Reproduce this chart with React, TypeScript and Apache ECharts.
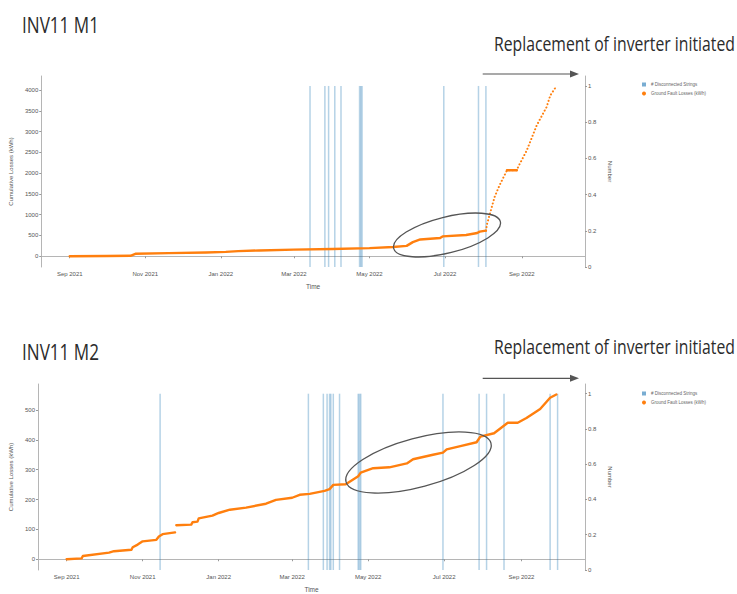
import React, { useEffect, useRef } from 'react';
import * as echarts from 'echarts';

// ---------- data ----------
const xTickDates = ['2021-09-01', '2021-11-01', '2022-01-01', '2022-03-01', '2022-05-01', '2022-07-01', '2022-09-01'];
const xMinDate = '2021-08-09';
const xMaxDate = '2022-10-22';

const m1LossTicks = [0, 500, 1000, 1500, 2000, 2500, 3000, 3500, 4000];
const m2LossTicks = [0, 100, 200, 300, 400, 500];
const numberTicks = [0, 0.2, 0.4, 0.6, 0.8, 1];

const m1Disconnected = ['2022-03-14', '2022-03-26', '2022-03-29', '2022-04-03', '2022-04-08', '2022-04-23', '2022-04-24', '2022-04-25', '2022-06-30', '2022-07-28', '2022-08-03'];
const m2Disconnected = ['2021-11-15', '2022-03-14', '2022-03-26', '2022-03-29', '2022-03-31', '2022-04-01', '2022-04-03', '2022-04-08', '2022-04-23', '2022-04-24', '2022-04-25', '2022-06-30', '2022-07-29', '2022-08-04', '2022-08-18', '2022-09-24', '2022-09-30'];

// M1 cumulative losses (kWh): dense section
const m1LossDense: [string, number][] = [
  ['2021-09-01', 0], ['2021-10-01', 5], ['2021-10-20', 12], ['2021-10-24', 60], ['2021-11-20', 75],
  ['2021-12-20', 92], ['2022-01-05', 105], ['2022-01-15', 125], ['2022-02-01', 140], ['2022-03-01', 160],
  ['2022-04-01', 175], ['2022-05-01', 195], ['2022-05-20', 222], ['2022-05-31', 250], ['2022-06-05', 340],
  ['2022-06-11', 405], ['2022-06-27', 440], ['2022-06-29', 478], ['2022-07-18', 513], ['2022-07-27', 560],
  ['2022-07-29', 592], ['2022-08-03', 617],
];
// M1 after replacement: sparse (dotted) section
const m1LossSparse: [string, number][] = [
  ['2022-08-03', 617], ['2022-08-04', 786], ['2022-08-07', 1106], ['2022-08-10', 1426], ['2022-08-14', 1708],
  ['2022-08-20', 2068], ['2022-08-28', 2070], ['2022-08-29', 2148], ['2022-09-05', 2549], ['2022-09-13', 3150],
  ['2022-09-21', 3591], ['2022-09-24', 3872], ['2022-09-29', 4096],
];
const m1LossFlat: [string, number][] = [['2022-08-20', 2068], ['2022-08-28', 2070]];

// M2 cumulative losses (kWh)
const m2LossA: [string, number][] = [
  ['2021-09-01', 0], ['2021-09-13', 3], ['2021-09-14', 11], ['2021-10-05', 22], ['2021-10-09', 27],
  ['2021-10-23', 32], ['2021-10-24', 40], ['2021-10-28', 49], ['2021-11-01', 60], ['2021-11-12', 65],
  ['2021-11-14', 76], ['2021-11-17', 84], ['2021-11-27', 90],
];
const m2LossB: [string, number][] = [
  ['2021-11-28', 114], ['2021-12-10', 116], ['2021-12-11', 124], ['2021-12-15', 126], ['2021-12-16', 137],
  ['2021-12-27', 146], ['2022-01-01', 155], ['2022-01-10', 166], ['2022-01-23', 173], ['2022-02-08', 186],
  ['2022-02-16', 199], ['2022-03-01', 206], ['2022-03-07', 216], ['2022-03-15', 219], ['2022-03-27', 229],
  ['2022-03-31', 235], ['2022-04-03', 249], ['2022-04-13', 251], ['2022-04-23', 278], ['2022-04-25', 290],
  ['2022-05-05', 305], ['2022-05-18', 308], ['2022-06-01', 321], ['2022-06-06', 335], ['2022-06-22', 350],
  ['2022-06-30', 357], ['2022-07-03', 368], ['2022-07-14', 379], ['2022-07-27', 392], ['2022-07-30', 411],
  ['2022-08-10', 422], ['2022-08-15', 438], ['2022-08-21', 457], ['2022-08-29', 457], ['2022-09-05', 473],
  ['2022-09-13', 495], ['2022-09-16', 503], ['2022-09-24', 541], ['2022-09-29', 552],
];

const SERIES_BAR = '# Disconnected Strings';
const SERIES_LOSS = 'Ground Fault Losses (kWh)';
const TITLE_1 = 'INV11 M1';
const TITLE_2 = 'INV11 M2';
const NOTE = 'Replacement of inverter initiated';

// ---------- helpers ----------
const ts = (s: string) => {
  const [y, m, d] = s.split('-').map(Number);
  return new Date(y, m - 1, d).getTime();
};
const MONTHS = ['Jan', 'Feb', 'Mar', 'Apr', 'May', 'Jun', 'Jul', 'Aug', 'Sep', 'Oct', 'Nov', 'Dec'];
const fmtMonth = (v: number) => {
  const d = new Date(v);
  return MONTHS[d.getMonth()] + ' ' + d.getFullYear();
};
const pairs = (arr: [string, number][]) => arr.map(([d, v]) => [ts(d), v]);
const measure = (text: string, font: string) => {
  const ctx = document.createElement('canvas').getContext('2d');
  if (!ctx) return 1;
  ctx.font = font;
  return ctx.measureText(text).width || 1;
};

const ORANGE = '#ff7f0e';
const BLUE = 'rgba(31,119,180,0.33)';
const AXIS = '#b5b5b5';
const LABEL = '#555';
const FONT = '"Liberation Sans", Arial, sans-serif';
const TITLE_FONT_FAMILY = '"Open Sans", "DejaVu Sans", sans-serif';

export default function App() {
  const ref = useRef<HTMLDivElement>(null);
  useEffect(() => {
    document.body.style.margin = '0';
    if (!ref.current) return;
    const chart = echarts.init(ref.current, undefined, { renderer: 'svg' });
    const xTicks = xTickDates.map(ts);

    const xAxis = (gridIndex: number) => ({
      type: 'value',
      gridIndex,
      min: ts(xMinDate),
      max: ts(xMaxDate),
      axisLine: { show: true, lineStyle: { color: AXIS, width: 1 } },
      axisTick: { show: true, length: 2, customValues: xTicks, lineStyle: { color: '#999' } },
      axisLabel: { customValues: xTicks, formatter: (v: number) => fmtMonth(v), fontSize: 6, color: LABEL, fontFamily: FONT, margin: 4 },
      splitLine: { show: false },
      name: 'Time',
      nameLocation: 'middle',
      nameGap: 16,
      nameTextStyle: { fontSize: 6.5, color: LABEL, fontFamily: FONT },
    });
    const leftAxis = (gridIndex: number, min: number, max: number, ticks: number[]) => ({
      type: 'value',
      gridIndex,
      position: 'left',
      min,
      max,
      axisLine: { show: true, lineStyle: { color: AXIS, width: 1 } },
      axisTick: { show: true, length: 2, customValues: ticks, lineStyle: { color: '#999' } },
      axisLabel: { customValues: ticks, formatter: (v: number) => String(v), fontSize: 6, color: LABEL, fontFamily: FONT, margin: 3 },
      splitLine: { show: false },
      name: 'Cumulative Losses (kWh)',
      nameLocation: 'middle',
      nameGap: 22,
      nameTextStyle: { fontSize: 6, color: LABEL, fontFamily: FONT },
    });
    const rightAxis = (gridIndex: number) => ({
      type: 'value',
      gridIndex,
      position: 'right',
      min: 0,
      max: 1.055,
      axisLine: { show: true, lineStyle: { color: AXIS, width: 1 } },
      axisTick: { show: true, length: 2, customValues: numberTicks, lineStyle: { color: '#999' } },
      axisLabel: { customValues: numberTicks, formatter: (v: number) => String(v), fontSize: 6, color: LABEL, fontFamily: FONT, margin: 3 },
      splitLine: { show: false },
      name: 'Number',
      nameLocation: 'middle',
      nameGap: 18,
      nameRotate: -90,
      nameTextStyle: { fontSize: 6, color: LABEL, fontFamily: FONT },
    });

    const barSeries = (dates: string[], xi: number, yi: number) => ({
      name: SERIES_BAR,
      type: 'bar',
      xAxisIndex: xi,
      yAxisIndex: yi,
      barWidth: 1.5,
      itemStyle: { color: BLUE },
      data: dates.map((d) => [ts(d), 1]),
      z: 1,
    });
    const lossSeries = (data: [string, number][], xi: number, yi: number, dotted = false) => ({
      name: SERIES_LOSS,
      type: 'line',
      xAxisIndex: xi,
      yAxisIndex: yi,
      symbol: 'none',
      color: ORANGE,
      lineStyle: dotted
        ? { color: ORANGE, width: 2, type: [0.1, 3.4], cap: 'round' }
        : { color: ORANGE, width: 2.4, cap: 'round', join: 'round' },
      data: pairs(data),
      z: 3,
    });

    const legend = (top: number) => ({
      orient: 'vertical',
      left: 637,
      top,
      itemWidth: 4,
      itemHeight: 4,
      itemGap: 4,
      textStyle: { fontSize: 4.5, color: '#666', fontFamily: FONT },
      data: [
        { name: SERIES_BAR, icon: 'rect', itemStyle: { color: 'rgba(31,119,180,0.6)' } },
        { name: SERIES_LOSS, icon: 'circle', itemStyle: { color: ORANGE } },
      ],
    });

    const titleFont = `22px ${TITLE_FONT_FAMILY}`;
    const noteFont = `20px ${TITLE_FONT_FAMILY}`;
    const titleScale = 77 / measure(TITLE_1, titleFont);
    const noteScale = 241 / measure(NOTE, noteFont);

    const titleText = (text: string, x: number, y: number) => ({
      type: 'text', x, y, scaleX: titleScale,
      style: { text, font: titleFont, fill: '#2b2b2b', textVerticalAlign: 'middle' },
    });
    const noteText = (x: number, y: number) => ({
      type: 'text', x, y, scaleX: noteScale,
      style: { text: NOTE, font: noteFont, fill: '#2b2b2b', textVerticalAlign: 'middle' },
    });
    const arrow = (y: number) => ([
      { type: 'line', shape: { x1: 482.7, y1: y, x2: 572, y2: y }, style: { stroke: '#555', lineWidth: 1.2 } },
      { type: 'polygon', shape: { points: [[570, y - 3.5], [579, y], [570, y + 3.5]] }, style: { fill: '#555' } },
    ]);
    const ellipse = (x: number, y: number, rx: number, ry: number, deg: number) => ({
      type: 'ellipse', x, y, rotation: (deg * Math.PI) / 180,
      shape: { cx: 0, cy: 0, rx, ry },
      style: { fill: 'none', stroke: '#555', lineWidth: 1.3 },
      z: 100,
    });

    chart.setOption({
      animation: false,
      backgroundColor: '#fff',
      grid: [
        { left: 40, right: 152, top: 76, height: 191 },
        { left: 38, right: 152, top: 384, height: 192 },
      ],
      xAxis: [xAxis(0), xAxis(1)],
      yAxis: [
        leftAxis(0, -258, 4337, m1LossTicks),
        rightAxis(0),
        leftAxis(1, -36, 587, m2LossTicks),
        rightAxis(1),
      ],
      legend: [legend(77), legend(386)],
      series: [
        barSeries(m1Disconnected, 0, 1),
        lossSeries(m1LossDense, 0, 0),
        lossSeries(m1LossSparse, 0, 0, true),
        lossSeries(m1LossFlat, 0, 0),
        barSeries(m2Disconnected, 1, 3),
        lossSeries(m2LossA, 1, 2),
        lossSeries(m2LossB, 1, 2),
      ],
      graphic: [
        titleText(TITLE_1, 22, 24.4),
        noteText(494, 43),
        ...arrow(74),
        ellipse(447, 235, 55, 18, 14),
        titleText(TITLE_2, 22, 351.4),
        noteText(494, 346.4),
        ...arrow(378.3),
        ellipse(418.5, 462.5, 75, 24.5, 15),
      ],
    });
    return () => chart.dispose();
  }, []);
  return <div ref={ref} style={{ position: 'absolute', left: 0, top: 0, width: 737, height: 594 }} />;
}
